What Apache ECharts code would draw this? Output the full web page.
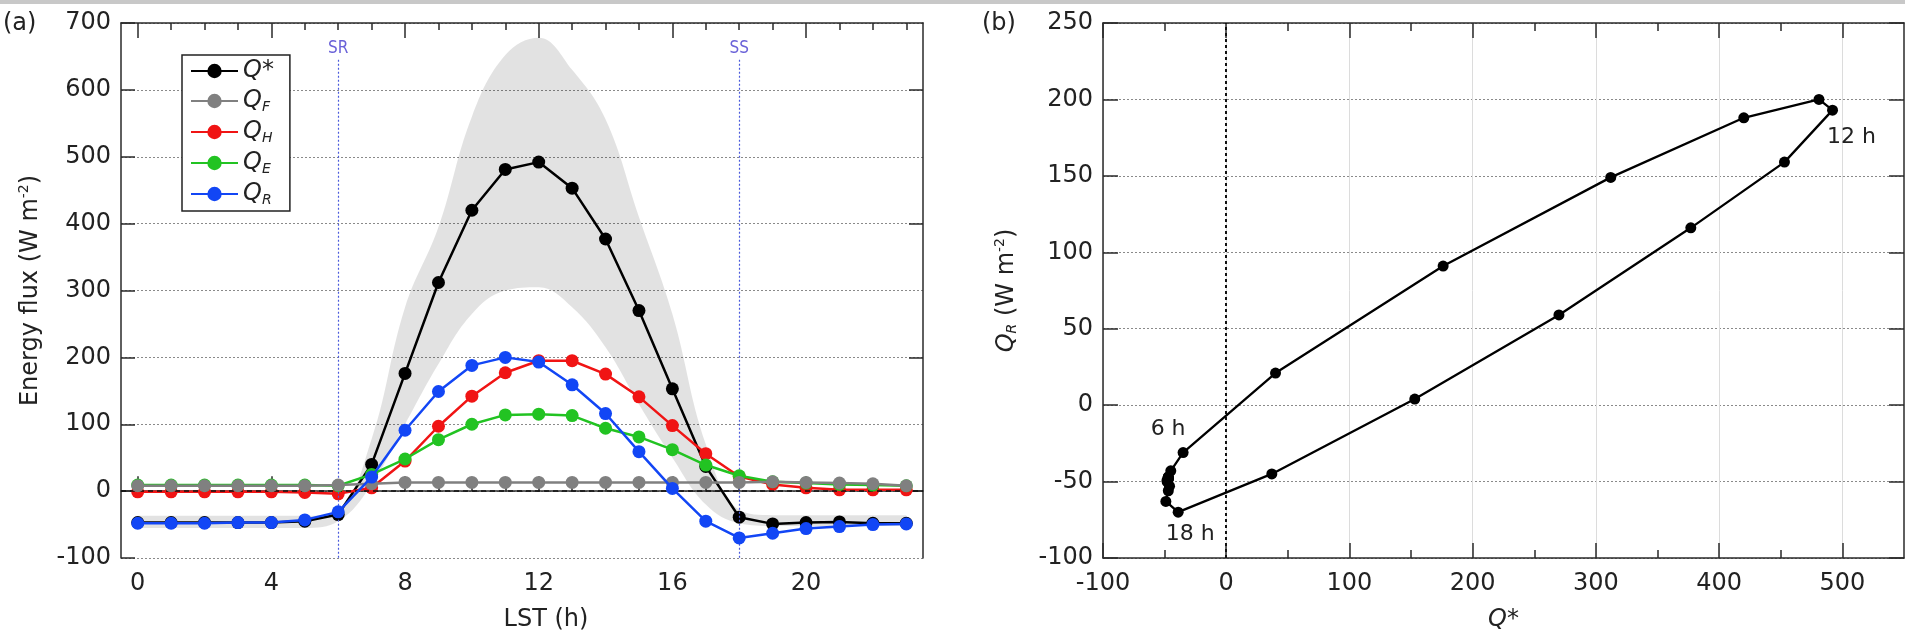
<!DOCTYPE html>
<html>
<head>
<meta charset="utf-8">
<script src="https://cdn.jsdelivr.net/npm/echarts@6/dist/echarts.min.js"></script>
<style>
html,body{margin:0;padding:0;background:#fff;}
#c{width:1905px;height:637px;}
</style>
</head>
<body>
<div id="c"></div>
<script>
// ---------------- data ----------------
const hours = ['0','1','2','3','4','5','6','7','8','9','10','11','12','13','14','15','16','17','18','19','20','21','22','23'];
const qStar = [-47,-47,-47,-47,-47,-45,-35,40,176,312,420,481,492,453,377,270,153,37,-39,-49,-47,-46,-48,-48];
const qF    = [8,8,8,8,8,8,9,11,13,13,13,13,13,13,13,13,13,13,13,14,13,12,11,8];
const qH    = [-1,-1,-1,-1,-1,-2,-4,5,45,97,142,177,195,195,175,141,98,56,22,10,5,2,2,2];
const qE    = [9,9,9,9,9,9,8,25,48,77,100,114,115,113,94,81,62,39,23,14,12,10,9,8];
const qR    = [-48,-48,-48,-47,-47,-43,-31,21,91,149,188,200,193,159,116,59,4,-45,-70,-63,-56,-53,-50,-49];
const bandLow  = [-55,-55,-55,-55,-55,-55,-45,10,100,190,265,300,305,275,215,130,50,-20,-48,-52,-52,-52,-52,-52];
const bandHigh = [-37,-37,-37,-37,-37,-37,-28,78,275,395,560,652,678,630,556,410,265,70,-28,-36,-36,-36,-36,-36];
const seriesNames = ['Q*','QF','QH','QE','QR'];
const legendText = {'Q*':'{q|Q*}','QF':'{q|Q}{s|F}','QH':'{q|Q}{s|H}','QE':'{q|Q}{s|E}','QR':'{q|Q}{s|R}'};
const sunLines = [{hour:'6', text:'SR'},{hour:'18', text:'SS'}];
const leftRightTicks = [0,200,400,600];
const rightXMajor = [-100,0,100,200,300,400,500];
const rightXMinor = [-50,50,150,250,350,450];
const loopLabelHours = [6,12,18];

// ---------------- styles ----------------
const FONT = 'DejaVu Sans';
const colors = {'Q*':'#000000','QF':'#808080','QH':'#f01414','QE':'#22c322','QR':'#1246f5'};
const zOrder = {'Q*':3,'QF':6,'QH':4,'QE':5,'QR':7};
const labelOffsets = {6:[-15,-23],12:[19,27],18:[12,22]};
const axisCol = '#2a2a2a';
const gridDot = {color:'#8a8a8a', type:[2,2], width:1};

const bandDiff = bandHigh.map((v,i)=>v-bandLow[i]);

const chart = echarts.init(document.getElementById('c'));

const L = {left:121, top:23, width:802, height:535};
const R = {left:1103, top:23, width:801, height:535};

function catAxis(pos, major, showLine, showLabel, extra){
  return Object.assign({
    type:'category', gridIndex:0, position:pos, data:hours, boundaryGap:true,
    axisLine:{show:showLine, lineStyle:{color:axisCol, width:1.5}},
    axisTick:{show:true, inside:true, alignWithLabel:true, interval: major?3:0, length: major?15:7, lineStyle:{color:axisCol, width:1.5}},
    axisLabel:{show:showLabel, interval:3, fontFamily:FONT, fontSize:24, color:'#222', margin:14},
    splitLine:{show:false}
  }, extra||{});
}
function rValX(pos, ticks, len, showLine, showLabel, extra){
  return Object.assign({
    type:'value', gridIndex:1, position:pos, min:-100, max:550, interval:100,
    axisLine:{show:showLine, onZero:false, lineStyle:{color:axisCol, width:1.5}},
    axisTick:{show:true, inside:true, length:len, customValues:ticks, lineStyle:{color:axisCol, width:1.5}},
    axisLabel:{show:showLabel, customValues:rightXMajor, fontFamily:FONT, fontSize:24, color:'#222', margin:14},
    splitLine:{show:false}
  }, extra||{});
}

const lineSeries = [qStar,qF,qH,qE,qR].map((arr,k)=>{
  const nm = seriesNames[k];
  return {
    name:nm, type:'line', xAxisIndex:0, yAxisIndex:0, data:arr,
    symbol:'circle', symbolSize:13, showSymbol:true,
    itemStyle:{color:colors[nm]}, lineStyle:{color:colors[nm], width:2.5},
    z:zOrder[nm], animation:false
  };
});

const loopData = qStar.map((x,i)=>{
  const d = {value:[x,qR[i]]};
  if(loopLabelHours.indexOf(i)>=0){
    d.label = {show:true, position:'inside', offset:labelOffsets[i], formatter: hours[i]+' h',
      fontFamily:FONT, fontSize:22, color:'#222'};
  }
  return d;
});
loopData.push({value:[qStar[0],qR[0]]});

const option = {
  animation:false,
  backgroundColor:'#fff',
  graphic:[
    {type:'rect', left:0, top:0, shape:{width:1905, height:4}, style:{fill:'#c8c8c8'}},
    {type:'text', left:3, top:12, style:{text:'(a)', font:'24px "DejaVu Sans"', fill:'#222'}},
    {type:'text', left:982, top:12, style:{text:'(b)', font:'24px "DejaVu Sans"', fill:'#222'}}
  ],
  grid:[
    Object.assign({containLabel:false}, L),
    Object.assign({containLabel:false}, R)
  ],
  legend:{
    data:seriesNames, orient:'vertical', left:182, top:55,
    itemWidth:47, itemHeight:18, itemGap:5, padding:[4,16,4,8],
    borderColor:'#222', borderWidth:1.5, backgroundColor:'#fff', selectedMode:false,
    formatter:(n)=>legendText[n],
    textStyle:{
      fontFamily:FONT, color:'#222',
      rich:{
        q:{fontFamily:FONT, fontStyle:'italic', fontSize:24, lineHeight:28, color:'#222'},
        s:{fontFamily:FONT, fontStyle:'italic', fontSize:14, lineHeight:14, padding:[12,0,0,0], color:'#222'}
      }
    }
  },
  xAxis:[
    catAxis('bottom', true, true, true, {
      name:'LST (h)', nameLocation:'middle', nameGap:50,
      nameTextStyle:{fontFamily:FONT, fontSize:24, color:'#222', padding:[0,0,0,48]}
    }),
    catAxis('bottom', false, false, false),
    catAxis('top', true, true, false),
    catAxis('top', false, false, false),
    rValX('bottom', rightXMajor, 15, true, true, {
      name:'Q*', nameLocation:'middle', nameGap:50,
      nameTextStyle:{fontFamily:FONT, fontSize:24, fontStyle:'italic', color:'#222'},
      splitLine:{show:true, lineStyle:{color:'#dcdcdc', width:1, type:'solid'}}
    }),
    rValX('bottom', rightXMinor, 8, false, false),
    rValX('top', rightXMajor, 15, true, false),
    rValX('top', rightXMinor, 8, false, false)
  ],
  yAxis:[
    {
      type:'value', gridIndex:0, position:'left', min:-100, max:700, interval:100,
      axisLine:{show:true, lineStyle:{color:axisCol, width:1.5}},
      axisTick:{show:true, inside:true, length:14, lineStyle:{color:axisCol, width:1.5}},
      axisLabel:{fontFamily:FONT, fontSize:24, color:'#222', margin:10},
      splitLine:{show:true, lineStyle:gridDot},
      name:'Energy flux (W m{sup|-2})', nameLocation:'middle', nameGap:76,
      nameTextStyle:{fontFamily:FONT, fontSize:24, color:'#222',
        rich:{sup:{fontFamily:FONT, fontSize:14, color:'#222', padding:[0,0,14,0]}}}
    },
    {
      type:'value', gridIndex:0, position:'right', min:-100, max:700, interval:100,
      axisLine:{show:true, lineStyle:{color:axisCol, width:1.5}},
      axisTick:{show:true, inside:true, length:14, customValues:leftRightTicks, lineStyle:{color:axisCol, width:1.5}},
      axisLabel:{show:false}, splitLine:{show:false}
    },
    {
      type:'value', gridIndex:1, position:'left', min:-100, max:250, interval:50,
      axisLine:{show:true, onZero:false, lineStyle:{color:axisCol, width:1.5}},
      axisTick:{show:true, inside:true, length:15, lineStyle:{color:axisCol, width:1.5}},
      axisLabel:{fontFamily:FONT, fontSize:24, color:'#222', margin:10},
      splitLine:{show:true, lineStyle:gridDot},
      name:'{qi|Q}{sub|R} (W m{sup|-2})', nameLocation:'middle', nameGap:82,
      nameTextStyle:{fontFamily:FONT, fontSize:24, color:'#222',
        rich:{
          qi:{fontFamily:FONT, fontSize:24, fontStyle:'italic', color:'#222'},
          sub:{fontFamily:FONT, fontSize:14, fontStyle:'italic', color:'#222', padding:[10,0,0,0]},
          sup:{fontFamily:FONT, fontSize:14, color:'#222', padding:[0,0,14,0]}
        }}
    },
    {
      type:'value', gridIndex:1, position:'right', min:-100, max:250, interval:50,
      axisLine:{show:true, onZero:false, lineStyle:{color:axisCol, width:1.5}},
      axisTick:{show:true, inside:true, length:15, lineStyle:{color:axisCol, width:1.5}},
      axisLabel:{show:false}, splitLine:{show:false}
    }
  ],
  series:[
    {
      name:'bandLow', type:'line', xAxisIndex:0, yAxisIndex:0, data:bandLow,
      stack:'band', stackStrategy:'all', smooth:0.4, symbol:'none',
      lineStyle:{opacity:0}, silent:true, z:1,
      markLine:{
        silent:true, symbol:['none','none'], animation:false,
        data:[
          {yAxis:0, lineStyle:{color:'#111', type:[5,4], width:1.5}, label:{show:false}},
          ...sunLines.map(s=>[
            {coord:[s.hour, 645], lineStyle:{color:'#4b5bdc', type:[2,2], width:1.2},
             label:{show:true, position:'start', formatter:s.text, fontFamily:'Liberation Sans Narrow, DejaVu Sans Condensed, DejaVu Sans', fontSize:17, color:'#6a62d8', distance:3}},
            {coord:[s.hour, -100]}
          ])
        ]
      }
    },
    {
      name:'bandDiff', type:'line', xAxisIndex:0, yAxisIndex:0, data:bandDiff,
      stack:'band', stackStrategy:'all', smooth:0.4, symbol:'none',
      lineStyle:{opacity:0}, areaStyle:{color:'rgba(0,0,0,0.115)', opacity:1}, silent:true, z:1
    },
    ...lineSeries,
    {
      name:'loop', type:'line', xAxisIndex:4, yAxisIndex:2, data:loopData,
      symbol:'circle', symbolSize:11, itemStyle:{color:'#000'}, lineStyle:{color:'#000', width:2.3},
      z:5,
      markLine:{
        silent:true, symbol:['none','none'], animation:false, label:{show:false},
        data:[{xAxis:0, lineStyle:{color:'#111', type:[3,3], width:2}}]
      }
    }
  ]
};
chart.setOption(option);
</script>
</body>
</html>
